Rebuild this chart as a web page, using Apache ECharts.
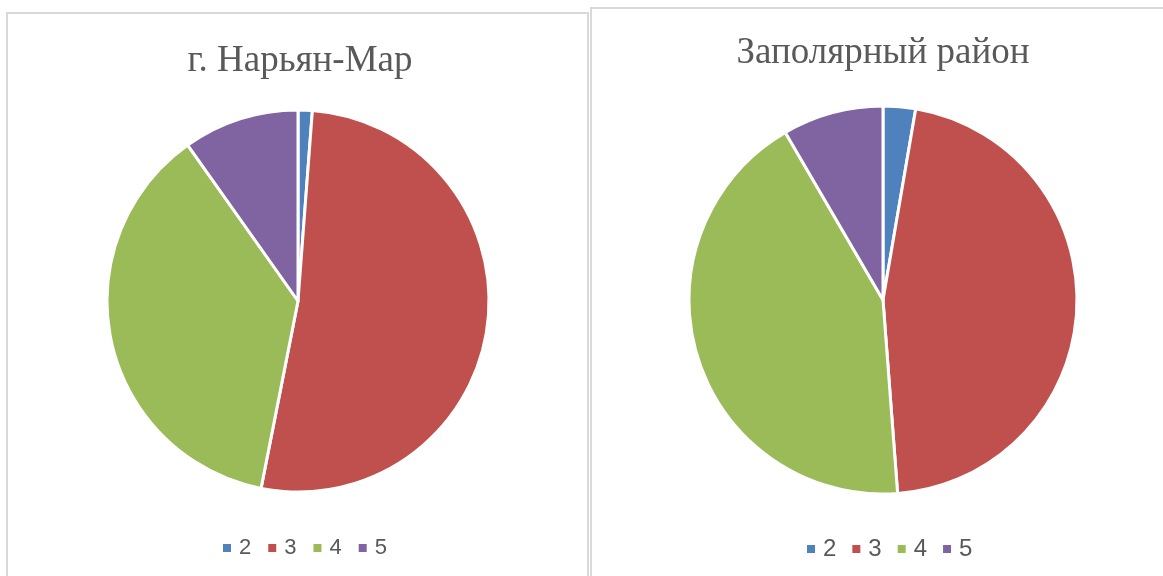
<!DOCTYPE html>
<html lang="ru">
    <head>
        <meta charset="UTF-8" />
        <title>Оценки</title>
        <script src="https://cdnjs.cloudflare.com/ajax/libs/echarts/6.0.0/echarts.min.js"></script>
        <style>
            body {
                margin: 0;
                width: 1163px;
                height: 576px;
                overflow: hidden;
                background: #fff;
                position: relative;
            }
            .chart {
                position: absolute;
                box-sizing: border-box;
                border: 2px solid #d9d9d9;
                height: 620px;
                background: #fff;
            }
        </style>
    </head>

    <body>
        <div id="left" class="chart" style="left: 6px; top: 12px; width: 583px"></div>
        <div id="right" class="chart" style="left: 590px; top: 7px; width: 600px"></div>
        <script>
            const grades = ["2", "3", "4", "5"];
            const colors = ["#4f81bd", "#c0504d", "#9bbb59", "#8064a2"];
            const naryanMar = [1.2, 51.9, 37.1, 9.8];
            const zapolyarny = [2.7, 46.1, 42.8, 8.4];

            //function to build pie option for one panel
            function toOption(p) {
                return {
                    animation: false,
                    color: colors,
                    title: {
                        text: p.title,
                        left: p.titleX,
                        top: p.titleY,
                        textAlign: "center",
                        textStyle: {
                            fontFamily: "Liberation Serif",
                            fontWeight: "normal",
                            fontSize: p.titleSize,
                            color: "#595959",
                        },
                    },
                    legend: {
                        data: grades,
                        left: p.legendX,
                        top: p.legendY,
                        icon: "rect",
                        itemWidth: 10,
                        itemHeight: 10,
                        itemGap: p.legendGap,
                        textStyle: {
                            fontFamily: "Liberation Sans Narrow, Liberation Sans",
                            fontSize: p.legendSize,
                            color: "#595959",
                            padding: [0, 0, 0, 2],
                        },
                    },
                    series: [
                        {
                            type: "pie",
                            center: p.center,
                            radius: p.radius,
                            startAngle: 90,
                            clockwise: true,
                            label: { show: false },
                            labelLine: { show: false },
                            emphasis: { disabled: true },
                            itemStyle: { borderColor: "#fff", borderWidth: 3 },
                            data: grades.map((g, i) => ({ name: g, value: p.values[i] })),
                        },
                    ],
                };
            }

            echarts.init(document.getElementById("left")).setOption(
                toOption({
                    title: "г. Нарьян-Мар",
                    titleX: 287,
                    titleY: 24,
                    titleSize: 37,
                    values: naryanMar,
                    center: [290, 287],
                    radius: 191,
                    legendX: 208,
                    legendY: 518,
                    legendGap: 15,
                    legendSize: 22,
                })
            );

            echarts.init(document.getElementById("right")).setOption(
                toOption({
                    title: "Заполярный район",
                    titleX: 286,
                    titleY: 21,
                    titleSize: 37,
                    values: zapolyarny,
                    center: [291, 291],
                    radius: 194,
                    legendX: 208,
                    legendY: 523,
                    legendGap: 14,
                    legendSize: 24,
                })
            );
        </script>
    </body>
</html>
